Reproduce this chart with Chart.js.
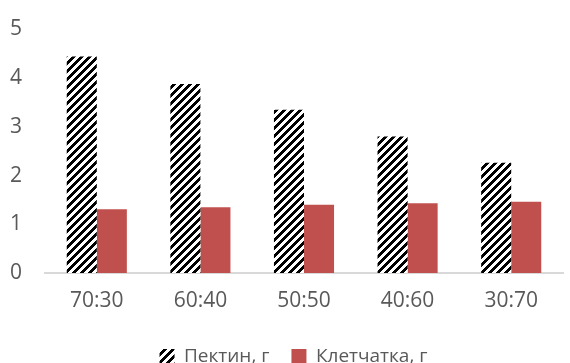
<!DOCTYPE html>
<html>
<head>
<meta charset="utf-8">
<script src="https://cdn.jsdelivr.net/npm/chart.js@4/dist/chart.umd.min.js"></script>
<style>
  html, body { margin: 0; padding: 0; background: #fff; }
  #wrap { width: 570px; height: 363px; }
</style>
</head>
<body>
<div id="wrap"><canvas id="chart"></canvas></div>
<script>
// data
const categories = ["70:30", "60:40", "50:50", "40:60", "30:70"];
const pectin = [4.44, 3.88, 3.35, 2.80, 2.26];
const fiber = [1.31, 1.35, 1.40, 1.43, 1.46];
const seriesNames = ["Пектин, г", "Клетчатка, г"];

// ---------- hatch pattern (wide upward diagonal) ----------
function makeHatch() {
  const c = document.createElement("canvas");
  c.width = 8; c.height = 8;
  const g = c.getContext("2d");
  g.fillStyle = "#fff";
  g.fillRect(0, 0, 8, 8);
  g.fillStyle = "#000";
  for (let y = 0; y < 8; y++) {
    for (let x = 0; x < 8; x++) {
      if ((x + y) % 8 < 4) g.fillRect(x, y, 1, 1);
    }
  }
  return g.createPattern(c, "repeat");
}
const hatch = makeHatch();

const font = { family: "'Open Sans', sans-serif", size: 21 };
const yFont = { family: "'Open Sans', sans-serif", size: 21, lineHeight: 0.6 };
const legendFont = { family: "'Open Sans', sans-serif", size: 19 };
const textColor = "#595959";

// nudge the legend right / up, like the original
const legendShift = {
  id: "legendShift",
  afterLayout(chart) {
    const lg = chart.legend;
    lg.left += 12; lg.right += 12;
    lg.top -= 8; lg.bottom -= 8;
  }
};

new Chart(document.getElementById("chart"), {
  type: "bar",
  data: {
    labels: categories,
    datasets: [
      { label: seriesNames[0], data: pectin, backgroundColor: hatch, borderWidth: 0,
        categoryPercentage: 0.58, barPercentage: 1.0 },
      { label: seriesNames[1], data: fiber, backgroundColor: "#c0504d", borderWidth: 0,
        categoryPercentage: 0.58, barPercentage: 1.0 }
    ]
  },
  options: {
    responsive: true,
    maintainAspectRatio: false,
    animation: false,
    layout: { padding: { top: 3, right: 7, left: 0, bottom: -21 } },
    scales: {
      x: {
        grid: { display: false, drawTicks: false },
        border: { display: true, color: "#d9d9d9", width: 2 },
        ticks: { color: textColor, font: font, padding: 15, maxRotation: 0 },
        afterFit: (s) => { s.height = 60; }
      },
      y: {
        min: 0, max: 5,
        grid: { display: false, drawTicks: false },
        border: { display: false },
        ticks: { stepSize: 1, color: textColor, font: yFont, padding: 23 },
        afterFit: (s) => { s.width = 45; }
      }
    },
    plugins: {
      legend: {
        position: "bottom",
        labels: {
          color: textColor,
          font: legendFont,
          boxWidth: 15,
          boxHeight: 15,
          padding: 22
        }
      },
      tooltip: { enabled: false }
    }
  },
  plugins: [legendShift]
});
</script>
</body>
</html>
